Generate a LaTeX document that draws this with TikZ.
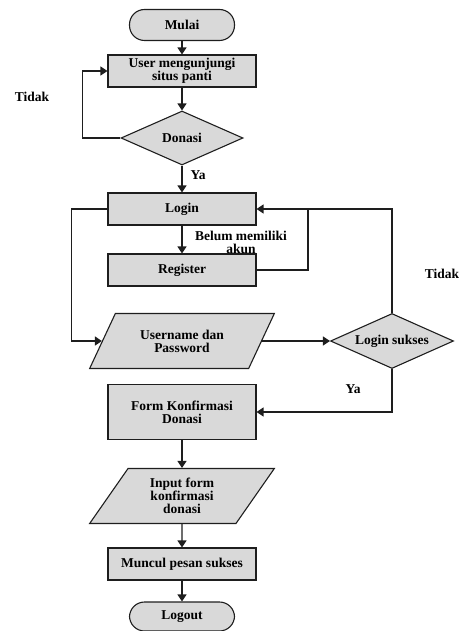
\documentclass[tikz,border=0pt]{standalone}
\usepackage{fontspec}
\setmainfont{Liberation Serif}
\usepackage{xcolor}
\usepackage{tikz}
\usetikzlibrary{shapes.geometric, arrows.meta, positioning}
\definecolor{boxgray}{RGB}{217, 217, 217}
\definecolor{linegray}{RGB}{30, 30, 30}

\begin{document}
\begin{tikzpicture}[
    x=1pt, y=-1pt,
    font=\fontsize{13.5}{12.8}\selectfont\bfseries,
    box/.style={rectangle, draw=linegray, line width=1.1pt, minimum width=148pt, minimum height=32pt, align=center, fill=boxgray},
    term/.style={rectangle, rounded corners=15pt, draw=linegray, line width=1.1pt, minimum width=105pt, minimum height=31pt, align=center, fill=boxgray},
    decision/.style={diamond, aspect=2.2, inner sep=1pt, draw=linegray, line width=1.1pt, minimum width=122pt, minimum height=54pt, align=center, fill=boxgray},
    io/.style={trapezium, trapezium left angle=59, trapezium right angle=121, trapezium stretches=true, draw=linegray, line width=1.1pt, minimum width=185pt, minimum height=55pt, align=center, fill=boxgray},
    arrow/.style={-{Triangle[length=7pt, width=9pt]}, line width=1.2pt, draw=linegray}
]
    \useasboundingbox (0,0) rectangle (465,631);

    % Start
    \node[term] (mulai) at (182, 25) {Mulai};
    \node[box] (visit) at (182, 71) {User mengunjungi\\situs panti};
    \node[decision] (donasi) at (182, 138) {Donasi};

    % Login part
    \node[box] (login) at (182, 209) {Login};
    \node[box] (register) at (182, 270) {Register};
    \node[io] (userpass) at (182, 341) {Username dan\\Password};
    \node[decision, minimum width=123pt, minimum height=55pt] (sukses) at (392, 341) {Login sukses};

    % Konfirmasi
    \node[box, minimum height=55pt] (form) at (182, 412) {Form Konfirmasi\\Donasi};
    \node[io] (input) at (182, 496) {Input form\\konfirmasi\\donasi};
    \node[box] (pesan) at (182, 564) {Muncul pesan sukses};
    \node[term, minimum height=29pt] (logout) at (182, 616.5) {Logout};

    % Labels
    \node (tidak1) at (32, 97) {Tidak};
    \node (ya1) at (198, 175) {Ya};
    \node[align=center] (belum) at (241, 242) {Belum memiliki\\akun};
    \node (tidak2) at (442, 274) {Tidak};
    \node (ya2) at (353, 389) {Ya};
    \coordinate (join) at (308, 209);

    % Arrows
    \draw[arrow] (mulai) -- (visit);
    \draw[arrow] (visit) -- (donasi);
    \draw[arrow] (donasi.west) -- ++(-38, 0) |- (visit.west);
    \draw[arrow] (donasi) -- (login);
    \draw[arrow] (login) -- (register);
    \draw[line width=1.2pt, linegray] (register.east) -| (join);
    \draw[arrow] (sukses.north) |- (login.east);
    \draw[arrow] (login.west) -- ++(-36, 0) |- (userpass.left side);
    \draw[arrow] (userpass.right side) -- (sukses.west);
    \draw[arrow] (sukses.south) |- (form.east);
    \draw[arrow] (form) -- (input);
    \draw[arrow] (input) -- (pesan);
    \draw[arrow] (pesan) -- (logout);

\end{tikzpicture}
\end{document}
